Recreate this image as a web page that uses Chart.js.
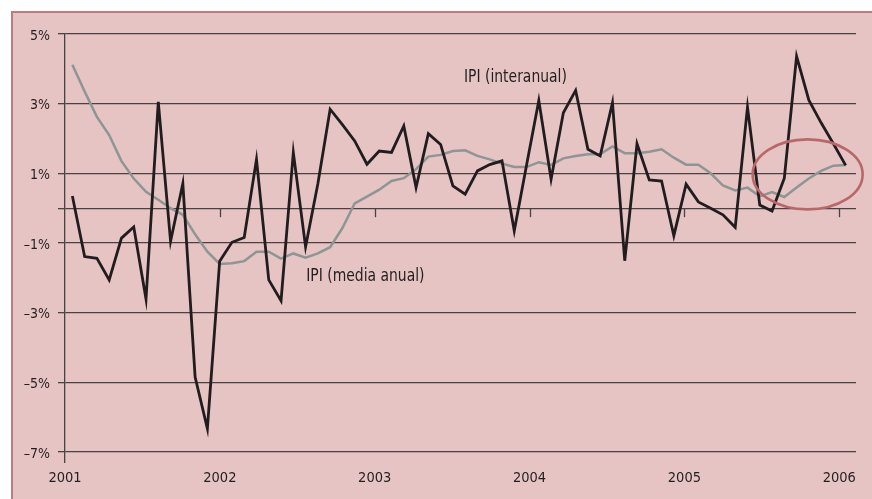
<!DOCTYPE html>
<html>
<head>
<meta charset="utf-8">
<script src="https://cdn.jsdelivr.net/npm/chart.js@4.4.1/dist/chart.umd.min.js"></script>
<style>
  html, body { margin: 0; padding: 0; background: #ffffff; }
  #panel { position: absolute; left: 11px; top: 11px; width: 861px; height: 488px;
           background: #e6c4c3; border-top: 2px solid #bd7d7e; border-left: 2px solid #bd7d7e; box-sizing: border-box; }
  #wrap { position: absolute; left: 0; top: 0; width: 872px; height: 499px; }
</style>
</head>
<body>
<div id="panel"></div>
<div id="wrap"><canvas id="c" width="872" height="499"></canvas></div>
<script>
// ---- data ----
const yearLabels = ['2001', '2002', '2003', '2004', '2005', '2006'];
const yTicks = [-7, -5, -3, -1, 0, 1, 3, 5];
const seriesNames = ['IPI (interanual)', 'IPI (media anual)'];
const interanual = [
  0.35, -1.39, -1.44, -2.06, -0.86, -0.54, -2.61, 3.05, -0.95, 0.71,
  -4.85, -6.33, -1.52, -0.98, -0.84, 1.40, -2.06, -2.66, 1.60, -1.11,
  0.70, 2.84, 2.40, 1.93, 1.26, 1.64, 1.60, 2.36, 0.59, 2.14,
  1.83, 0.64, 0.40, 1.07, 1.25, 1.36, -0.65, 1.23, 3.09, 0.83,
  2.74, 3.38, 1.69, 1.50, 3.03, -1.51, 1.85, 0.81, 0.78, -0.79,
  0.69, 0.18, 0.00, -0.19, -0.55, 2.90, 0.09, -0.08, 0.86, 4.36,
  3.10, 2.45, 1.85, 1.23
];
const mediaAnual = [
  4.12, 3.35, 2.62, 2.10, 1.35, 0.85, 0.47, 0.24, 0.00, -0.19,
  -0.75, -1.25, -1.60, -1.58, -1.52, -1.25, -1.25, -1.45, -1.30, -1.42,
  -1.30, -1.12, -0.57, 0.14, 0.33, 0.53, 0.78, 0.86, 1.12, 1.48,
  1.53, 1.64, 1.66, 1.50, 1.40, 1.28, 1.18, 1.18, 1.32, 1.24,
  1.43, 1.50, 1.55, 1.55, 1.77, 1.58, 1.58, 1.62, 1.69, 1.45,
  1.25, 1.25, 1.00, 0.65, 0.51, 0.59, 0.34, 0.46, 0.32, 0.59,
  0.85, 1.07, 1.22, 1.24
];

const FONT = "'DejaVu Sans Condensed', 'Liberation Sans Narrow', sans-serif";
const TXT = '#231f20';
const GRID = '#4a4242';

const overlay = {
  id: 'overlay',
  afterDatasetsDraw(chart) {
    const { ctx, scales } = chart;
    const x = scales.x, y = scales.y, yr = scales.yr;
    ctx.save();
    // year tick marks hanging from the zero line
    const y0 = y.getPixelForValue(0);
    ctx.strokeStyle = GRID; ctx.lineWidth = 1.3;
    for (let k = 1; k < yearLabels.length; k++) {
      const px = Math.round(yr.getPixelForValue(k)) + 0.5;
      ctx.beginPath(); ctx.moveTo(px, y0); ctx.lineTo(px, y0 + 9); ctx.stroke();
    }
    // highlight ellipse
    ctx.strokeStyle = '#b8686b'; ctx.lineWidth = 2.6;
    ctx.beginPath();
    ctx.ellipse(x.getPixelForValue(59.9), y.getPixelForValue(0.97), 55, 35, 0, 0, Math.PI * 2);
    ctx.stroke();
    // series labels (narrow lettering, as in the original)
    ctx.fillStyle = TXT;
    ctx.font = '18px ' + FONT;
    ctx.textBaseline = 'middle'; ctx.textAlign = 'left';
    const put = (txt, vx, vy) => {
      ctx.save();
      ctx.translate(x.getPixelForValue(vx), y.getPixelForValue(vy));
      ctx.scale(0.86, 1);
      ctx.fillText(txt, 0, 0);
      ctx.restore();
    };
    put(seriesNames[0], 31.9, 3.75);
    put(seriesNames[1], 19.05, -1.95);
    ctx.restore();
  }
};

new Chart(document.getElementById('c'), {
  type: 'line',
  data: {
    datasets: [
      { label: seriesNames[0], data: interanual.map((v, i) => ({ x: i, y: v })),
        borderColor: '#211d1e', borderWidth: 2.8, pointRadius: 0, tension: 0, xAxisID: 'x', yAxisID: 'y' },
      { label: seriesNames[1], data: mediaAnual.map((v, i) => ({ x: i, y: v })),
        borderColor: '#8d9595', borderWidth: 2.5, pointRadius: 0, tension: 0, xAxisID: 'x', yAxisID: 'y' }
    ]
  },
  options: {
    responsive: false,
    animation: false,
    events: [],
    layout: { padding: { left: 0, top: 34, right: 16, bottom: 0 } },
    plugins: { legend: { display: false }, tooltip: { enabled: false } },
    scales: {
      x: { type: 'linear', display: false, min: -0.6, max: 63.84 },
      yr: {
        type: 'linear', position: 'bottom', min: 0, max: 5.108,
        afterBuildTicks: (s) => { s.ticks = yearLabels.map((_, k) => ({ value: k })); },
        afterFit: (s) => { s.height = 47; },
        ticks: { callback: (v) => yearLabels[v], color: TXT, font: { family: FONT, size: 14.5 }, padding: 7, maxRotation: 0, autoSkip: false },
        grid: { drawOnChartArea: false, drawTicks: true, tickLength: 11, lineWidth: 1.3,
                color: (c) => (c.tick && c.tick.value === 0 ? GRID : 'rgba(0,0,0,0)') },
        border: { display: false }
      },
      y: {
        type: 'linear', min: -7, max: 5,
        afterBuildTicks: (s) => { s.ticks = yTicks.map((v) => ({ value: v })); },
        afterFit: (s) => { s.width = 65; },
        ticks: { callback: (v) => (v === 0 ? '' : (v < 0 ? '\u2013' + Math.abs(v) : v) + '%'),
                 color: TXT, font: { family: FONT, size: 14 }, padding: 8, labelOffset: 2, autoSkip: false },
        grid: { color: GRID, lineWidth: 1.3, tickLength: 7 },
        border: { display: true, color: GRID, width: 1.3 }
      }
    }
  },
  plugins: [overlay]
});
</script>
</body>
</html>
